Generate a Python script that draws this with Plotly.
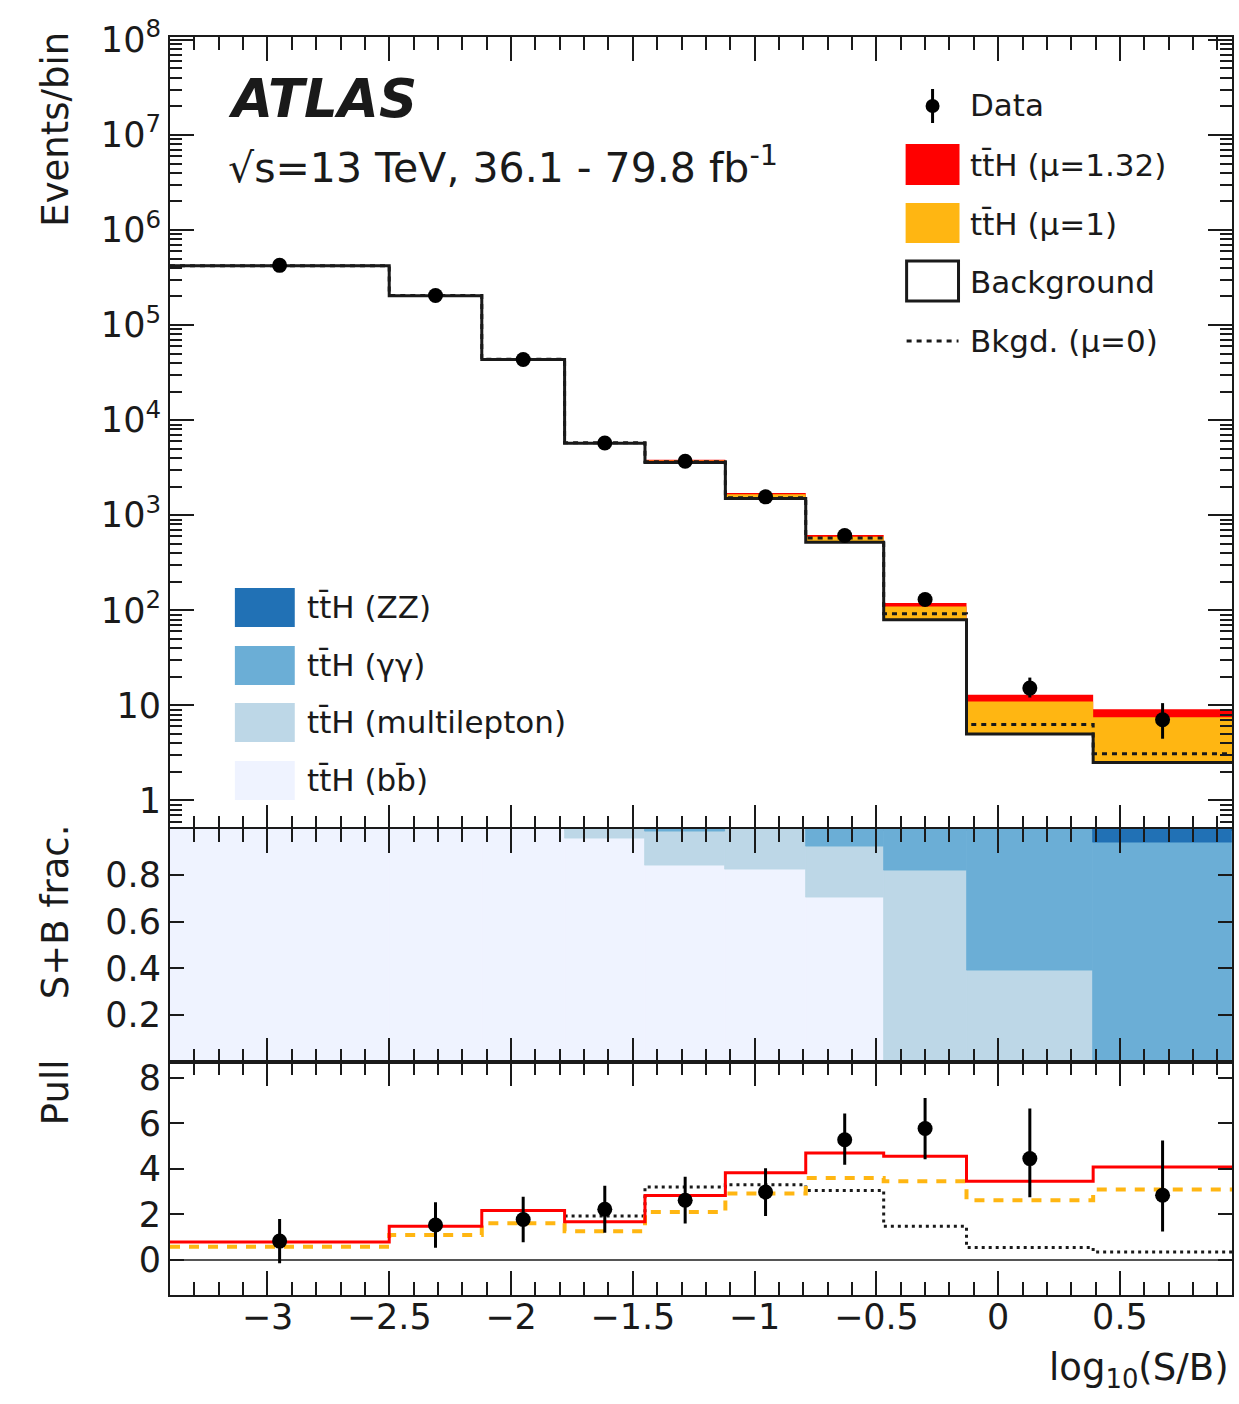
import plotly.graph_objects as go
import numpy as np

# ---------------- data ----------------
bin_edges = [-3.4, -2.5, -2.12, -1.78, -1.45, -1.12, -0.79, -0.47, -0.13, 0.39, 0.96]

data_events = [4.25e5, 2.05e5, 4.35e4, 5.75e3, 3.7e3, 1.56e3, 612, 130, 15.2, 7.06]
data_err_up = [650, 450, 210, 76, 61, 40, 25, 11.5, 4.4, 3.5]
data_err_dn = [650, 450, 210, 76, 61, 40, 25, 11.5, 3.1, 2.6]
background = [4.2e5, 2.04e5, 4.34e4, 5.7e3, 3.58e3, 1.50e3, 520, 79.5, 5.0, 2.5]
signal_mu1 = [500, 1000, 490, 137, 184, 165, 75, 30, 6.0, 5.0]
mu_fit = 1.32
bkgd_mu0 = [4.21e5, 2.05e5, 4.36e4, 5.8e3, 3.65e3, 1.53e3, 575, 92, 6.3, 3.1]

frac_bb = [1.0, 1.0, 1.0, 0.955, 0.843, 0.822, 0.703, 0.0, 0.0, 0.0]
frac_ml = [0.0, 0.0, 0.0, 0.045, 0.145, 0.178, 0.219, 0.818, 0.39, 0.0]
frac_yy = [0.0, 0.0, 0.0, 0.0, 0.012, 0.0, 0.078, 0.182, 0.61, 0.94]
frac_zz = [0.0, 0.0, 0.0, 0.0, 0.0, 0.0, 0.0, 0.0, 0.0, 0.06]

pull_mu_fit = [0.78, 1.47, 2.17, 1.67, 2.83, 3.83, 4.70, 4.55, 3.45, 4.08]
pull_mu1 = [0.57, 1.09, 1.61, 1.25, 2.10, 2.91, 3.60, 3.45, 2.62, 3.09]
pull_mu0 = [None, None, None, 1.93, 3.2, 3.3, 3.05, 1.47, 0.54, 0.34]
pull_data = [0.82, 1.53, 1.77, 2.22, 2.62, 2.98, 5.28, 5.77, 4.45, 2.84]
pull_err_up = [0.97, 1.0, 1.0, 1.03, 1.03, 1.05, 1.15, 1.35, 2.2, 2.4]
pull_err_dn = [0.97, 1.0, 1.0, 1.03, 1.03, 1.05, 1.10, 1.35, 1.7, 1.6]

x_tick_vals = [-3, -2.5, -2, -1.5, -1, -0.5, 0, 0.5]
x_tick_text = ["\u22123", "\u22122.5", "\u22122", "\u22121.5", "\u22121", "\u22120.5", "0", "0.5"]
y_log_vals = [1, 10, 1e2, 1e3, 1e4, 1e5, 1e6, 1e7, 1e8]
y_log_text = ["1", "10", "10<sup>2</sup>", "10<sup>3</sup>", "10<sup>4</sup>",
              "10<sup>5</sup>", "10<sup>6</sup>", "10<sup>7</sup>", "10<sup>8</sup>"]
frac_tick_vals = [0.2, 0.4, 0.6, 0.8]
pull_tick_vals = [0, 2, 4, 6, 8]

# ---------------- styles ----------------
RED = "#ff0000"
ORANGE = "#ffb612"
C_ZZ, C_YY, C_ML, C_BB = "#2171b5", "#6baed6", "#bdd7e7", "#eff3ff"
INK = "#1a1a1a"
FONT = "DejaVu Sans"

W, H = 1239, 1404
L, R, T, B = 170, 1234, 37, 1295


def px2x(px):
    return (px - L) / (R - L)


def px2y(py):
    return (B - py) / (B - T)


edges = np.array(bin_edges)
centers = 0.5 * (edges[:-1] + edges[1:])
widths = edges[1:] - edges[:-1]


def step(vals):
    v = list(vals)
    return v + [v[-1]]


bg = np.array(background)
sig = np.array(signal_mu1)
red_top = bg + mu_fit * sig
orange_top = bg + sig

fig = go.Figure()

# ---------- top panel ----------
fig.add_trace(go.Scatter(x=edges, y=step(bg), mode="lines", line=dict(width=0, shape="hv"),
                         xaxis="x", yaxis="y", showlegend=False, hoverinfo="skip"))
fig.add_trace(go.Scatter(x=edges, y=step(red_top), mode="lines", line=dict(width=0, shape="hv"),
                         fill="tonexty", fillcolor=RED, xaxis="x", yaxis="y", showlegend=False,
                         name="ttH (mu=1.32)"))
fig.add_trace(go.Scatter(x=edges, y=step(bg), mode="lines", line=dict(width=0, shape="hv"),
                         xaxis="x", yaxis="y", showlegend=False, hoverinfo="skip"))
fig.add_trace(go.Scatter(x=edges, y=step(orange_top), mode="lines", line=dict(width=0, shape="hv"),
                         fill="tonexty", fillcolor=ORANGE, xaxis="x", yaxis="y", showlegend=False,
                         name="ttH (mu=1)"))
fig.add_trace(go.Scatter(x=edges, y=step(bkgd_mu0), mode="lines",
                         line=dict(width=3, shape="hv", color=INK, dash="5px,5px"),
                         xaxis="x", yaxis="y", showlegend=False, name="Bkgd. (mu=0)"))
fig.add_trace(go.Scatter(x=edges, y=step(bg), mode="lines",
                         line=dict(width=3, shape="hv", color=INK),
                         xaxis="x", yaxis="y", showlegend=False, name="Background"))
fig.add_trace(go.Scatter(x=centers, y=data_events, mode="markers",
                         marker=dict(color="black", size=15),
                         error_y=dict(type="data", symmetric=False, array=data_err_up,
                                      arrayminus=data_err_dn, width=0, thickness=3, color="black"),
                         xaxis="x", yaxis="y", showlegend=False, name="Data"))

# ---------- middle panel (signal fractions) ----------
cum = np.zeros(len(centers))
for frac, col, nm in [(frac_bb, C_BB, "bb"), (frac_ml, C_ML, "multilepton"),
                      (frac_yy, C_YY, "yy"), (frac_zz, C_ZZ, "ZZ")]:
    fig.add_trace(go.Bar(x=centers, y=frac, base=cum.copy(), width=widths,
                         marker=dict(color=col, line=dict(color=col, width=0.8)),
                         xaxis="x2", yaxis="y2", showlegend=False, name=nm))
    cum = cum + np.array(frac)

# ---------- bottom panel (pull) ----------
fig.add_trace(go.Scatter(x=edges, y=step(pull_mu0), mode="lines",
                         line=dict(width=3, shape="hv", color=INK, dash="3px,4px"),
                         xaxis="x3", yaxis="y3", showlegend=False))
fig.add_trace(go.Scatter(x=edges, y=step(pull_mu1), mode="lines",
                         line=dict(width=4, shape="hv", color=ORANGE, dash="10px,9px"),
                         xaxis="x3", yaxis="y3", showlegend=False))
fig.add_trace(go.Scatter(x=edges, y=step(pull_mu_fit), mode="lines",
                         line=dict(width=3, shape="hv", color=RED),
                         xaxis="x3", yaxis="y3", showlegend=False))
fig.add_trace(go.Scatter(x=centers, y=pull_data, mode="markers",
                         marker=dict(color="black", size=15),
                         error_y=dict(type="data", symmetric=False, array=pull_err_up,
                                      arrayminus=pull_err_dn, width=0, thickness=3, color="black"),
                         xaxis="x3", yaxis="y3", showlegend=False))

# ---------- axes ----------
tickfont = dict(family=FONT, size=35, color=INK)
xcommon = dict(range=[bin_edges[0], bin_edges[-1]], ticks="inside", ticklen=24, tickwidth=2,
               tickcolor=INK, showline=True, linecolor=INK, linewidth=2, mirror="allticks",
               tickmode="array", tickvals=x_tick_vals, ticktext=x_tick_text,
               minor=dict(ticks="inside", ticklen=13, tickwidth=2, tickcolor=INK,
                          tickmode="linear", tick0=0, dtick=0.1),
               showgrid=False, zeroline=False, tickfont=tickfont)

d_bot = [0.0, px2y(1061.5)]
d_mid = [px2y(1061.5), px2y(828.5)]
d_top = [px2y(828.5), 1.0]

log_minor = [m * 10 ** k for k in range(-1, 8) for m in range(2, 10)]
ycommon = dict(ticks="inside", tickwidth=2, tickcolor=INK, showline=True, linecolor=INK,
               linewidth=2, mirror="allticks", showgrid=False, tickfont=tickfont,
               ticklabelstandoff=0)

fig.update_layout(
    width=W, height=H,
    margin=dict(l=L, r=W - R, t=T, b=H - B),
    paper_bgcolor="white", plot_bgcolor="white",
    barmode="overlay", bargap=0,
    font=dict(family=FONT, color=INK),
    showlegend=False,
    xaxis=dict(xcommon, anchor="y", domain=[0, 1], showticklabels=False),
    xaxis2=dict(xcommon, anchor="y2", matches="x", showticklabels=False),
    xaxis3=dict(xcommon, anchor="y3", matches="x", showticklabels=True,
                ticklabelstandoff=-10),
    yaxis=dict(ycommon, type="log", domain=d_top, range=[-0.295, 8.03],
               tickmode="array", tickvals=y_log_vals, ticktext=y_log_text, ticklen=24,
               zeroline=False,
               minor=dict(ticks="inside", ticklen=12, tickwidth=2, tickcolor=INK,
                          tickmode="array", tickvals=log_minor)),
    yaxis2=dict(ycommon, domain=d_mid, range=[0, 1], tickmode="array",
                tickvals=frac_tick_vals, ticktext=[f"{v:.1f}" for v in frac_tick_vals],
                ticklen=14, zeroline=False),
    yaxis3=dict(ycommon, domain=d_bot, range=[-1.55, 8.72], tickmode="array",
                tickvals=pull_tick_vals, ticktext=[str(v) for v in pull_tick_vals],
                ticklen=14, zeroline=True, zerolinecolor="#555555", zerolinewidth=2),
)

# ---------- text ----------
ann = []


def text(px, py, s, size, xanchor="left", yanchor="middle", angle=0):
    ann.append(dict(x=px2x(px), y=px2y(py), xref="paper", yref="paper", text=s,
                    showarrow=False, xanchor=xanchor, yanchor=yanchor, textangle=angle,
                    font=dict(family=FONT, size=size, color=INK)))


text(226, 98, "<b><i>ATLAS</i></b>", 53)
text(226, 165, "\u221as=13 TeV, 36.1 - 79.8 fb<sup>-1</sup>", 41)

# legend 1
text(970, 105, "Data", 31)
text(970, 165, "tt\u0304H (\u03bc=1.32)", 31)
text(970, 224, "tt\u0304H (\u03bc=1)", 31)
text(970, 282, "Background", 31)
text(970, 341, "Bkgd. (\u03bc=0)", 31)
# legend 2
text(305, 607, "tt\u0304H (ZZ)", 31)
text(305, 665, "tt\u0304H (\u03b3\u03b3)", 31)
text(305, 722, "tt\u0304H (multilepton)", 31)
text(305, 780, "tt\u0304H (bb\u0304)", 31)

# axis titles
text(55, 30, "Events/bin", 37, xanchor="center", yanchor="top", angle=-90)
text(55, 912, "S+B frac.", 37, xanchor="center", yanchor="middle", angle=-90)
text(55, 1092, "Pull", 37, xanchor="center", yanchor="middle", angle=-90)
text(1233, 1370, "log<sub>10</sub>(S/B)", 37, xanchor="right", yanchor="middle")

shapes = []


def rect(x0, y0, x1, y1, fill, line_color=None, lw=0):
    shapes.append(dict(type="rect", xref="paper", yref="paper",
                       x0=px2x(x0), x1=px2x(x1), y0=px2y(y1), y1=px2y(y0),
                       fillcolor=fill, line=dict(color=line_color or fill, width=lw)))


rect(907, 144, 961, 185, RED)
rect(907, 203, 961, 243, ORANGE)
rect(908, 261, 960, 301, "white", INK, 3)
shapes.append(dict(type="line", xref="paper", yref="paper", x0=px2x(908), x1=px2x(960),
                   y0=px2y(341), y1=px2y(341), line=dict(color=INK, width=3, dash="5px,5px")))
# data legend marker
shapes.append(dict(type="line", xref="paper", yref="paper", x0=px2x(934), x1=px2x(934),
                   y0=px2y(89), y1=px2y(123), line=dict(color="black", width=3)))
shapes.append(dict(type="circle", xref="paper", yref="paper", x0=px2x(927), x1=px2x(941),
                   y0=px2y(113), y1=px2y(99), fillcolor="black", line=dict(color="black", width=0)))

rect(235, 588, 295, 627, C_ZZ)
rect(235, 646, 295, 685, C_YY)
rect(235, 703, 295, 742, C_ML)
rect(235, 761, 295, 800, C_BB)

fig.update_layout(annotations=ann, shapes=shapes)

fig.write_html("out.html",
               config={"displayModeBar": False},
               post_script="document.body.style.margin='0';"
                           "document.body.style.padding='0';"
                           "document.body.style.overflow='hidden';")
